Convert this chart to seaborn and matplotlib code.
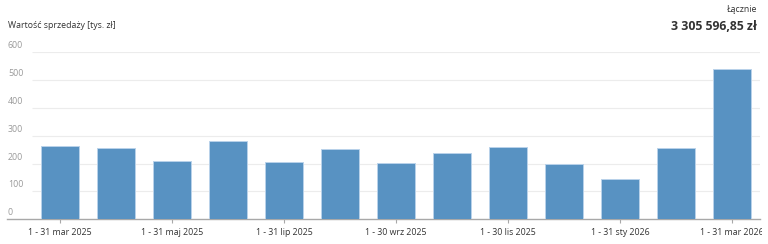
import matplotlib
matplotlib.use("Agg")
import matplotlib.pyplot as plt
import matplotlib.transforms as mtransforms
import seaborn as sns
import pandas as pd

months = ["1 - 31 mar 2025", "1 - 30 kwi 2025", "1 - 31 maj 2025", "1 - 30 cze 2025",
          "1 - 31 lip 2025", "1 - 31 sie 2025", "1 - 30 wrz 2025", "1 - 31 paź 2025",
          "1 - 30 lis 2025", "1 - 31 gru 2025", "1 - 31 sty 2026", "1 - 28 lut 2026",
          "1 - 31 mar 2026"]
values = [263, 257, 211, 281, 206, 251, 202, 238, 261, 200, 145, 255, 539]
yticks = [0, 100, 200, 300, 400, 500, 600]
title = "Wartość sprzedaży [tys. zł]"
total_label = "Łącznie"
total_value = "3 305 596,85 zł"

sns.set_theme(style="white")
plt.rcParams["font.family"] = ["Open Sans", "DejaVu Sans"]

fig = plt.figure(figsize=(7.68, 2.44), dpi=100)
ax = fig.add_axes([7/768, (244-219.3)/244, (760-7)/768, (219.3-52.3)/244])

df = pd.DataFrame({"month": months, "value": values})
sns.barplot(data=df, x="month", y="value", color="#5892c2", saturation=1,
            width=0.69, edgecolor="#b9d2ea", linewidth=0.7, ax=ax, zorder=3)

left = -0.5 - 25/56
ax.set_xlim(left, 12.5)
ax.set_ylim(0, 600)

# gridlines
ax.hlines([t for t in yticks if t > 0], -0.5, 12.5, color="#ececec", linewidth=0.8, zorder=1)
for s in ["top", "right", "left"]:
    ax.spines[s].set_visible(False)
ax.spines["bottom"].set_color("#a8a8a8")
ax.spines["bottom"].set_linewidth(1.0)

ax.set_yticks([])
ax.set_xlabel("")
ax.set_ylabel("")
pos = list(range(0, len(months), 2))
ax.set_xticks(pos)
ax.set_xticklabels([months[i] for i in pos], fontsize=6.3, color="#333333")
ax.tick_params(axis="x", length=3, width=0.8, color="#a8a8a8", pad=3.5, bottom=True)

clip = mtransforms.Bbox.from_extents(0, 0, 762, 244)
for lbl in ax.get_xticklabels():
    lbl.set_clip_box(mtransforms.TransformedBbox(
        mtransforms.Bbox.from_extents(0, 0, 762/768, 1), fig.transFigure))
    lbl.set_clip_on(True)

trans = mtransforms.blended_transform_factory(ax.transAxes, ax.transData)
offset = mtransforms.ScaledTranslation(1/100, 2/100, fig.dpi_scale_trans)
for t in yticks:
    ax.text(0, t, str(t), transform=trans + offset, ha="left", va="bottom",
            fontsize=6.4, color="#9a9a9a")

fig.text(8/768, 1 - 26/244, title, ha="left", va="center", fontsize=6.3, color="#333333")
fig.text(757/768, 1 - 9/244, total_label, ha="right", va="center", fontsize=6.3, color="#333333")
fig.text(757/768, 1 - 26/244, total_value, ha="right", va="center", fontsize=8.8,
         fontweight="bold", color="#333333")

fig.savefig("out.png", dpi=100)
